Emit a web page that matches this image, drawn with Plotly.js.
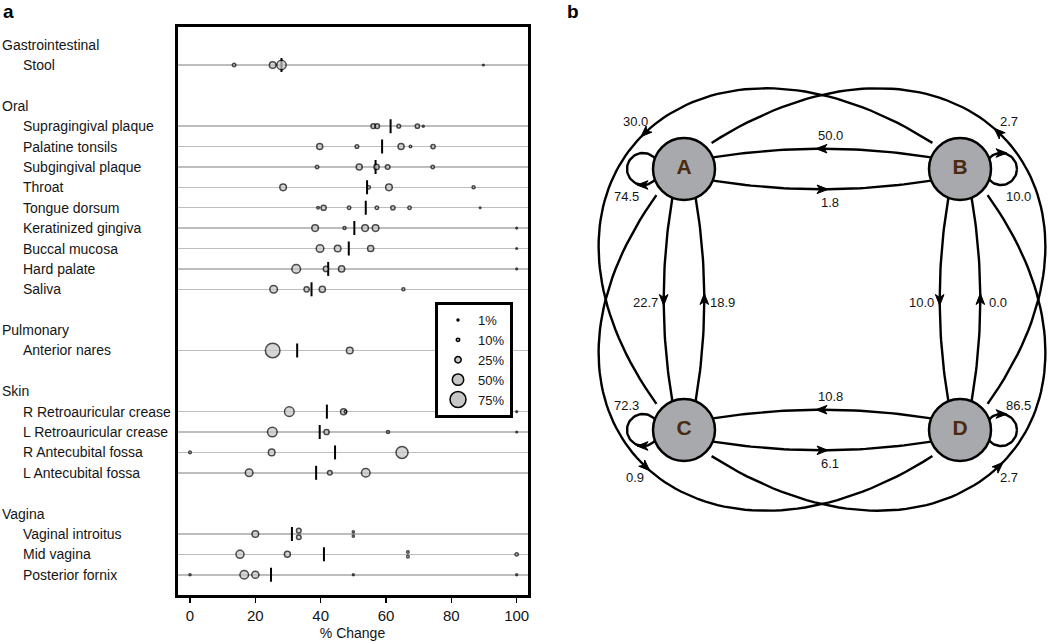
<!DOCTYPE html>
<html><head><meta charset="utf-8">
<script src="https://cdn.plot.ly/plotly-3.0.1.min.js"></script>
<style>html,body{margin:0;padding:0;background:#fff}#chart{width:1050px;height:643px}</style>
</head><body><div id="chart"></div>
<script>
// ---------------- DATA: panel a ----------------
const groupNames = ['Gastrointestinal', 'Oral', 'Pulmonary', 'Skin', 'Vagina'];
const siteNames = ['Stool',
  'Supragingival plaque', 'Palatine tonsils', 'Subgingival plaque', 'Throat', 'Tongue dorsum',
  'Keratinized gingiva', 'Buccal mucosa', 'Hard palate', 'Saliva',
  'Anterior nares',
  'R Retroauricular crease', 'L Retroauricular crease', 'R Antecubital fossa', 'L Antecubital fossa',
  'Vaginal introitus', 'Mid vagina', 'Posterior fornix'];
const siteGroup = [0, 1, 1, 1, 1, 1, 1, 1, 1, 1, 2, 3, 3, 3, 3, 4, 4, 4];
const siteMedian = [28.0, 61.4, 58.8, 56.8, 54.2, 53.8, 50.3, 48.6, 42.3, 37.2, 32.8, 41.9, 39.7, 44.4, 38.6, 31.2, 41.0, 24.8];
const pointChange = [
  [13.5, 25.3, 28.0, 89.8],
  [56.1, 57.3, 63.9, 69.6, 71.4],
  [39.7, 51.1, 64.6, 67.5, 74.4],
  [38.9, 51.8, 57.1, 60.5, 74.3],
  [28.5, 54.7, 60.9, 86.8],
  [39.2, 40.9, 48.7, 57.2, 62.1, 67.2, 88.8],
  [38.3, 47.3, 53.6, 56.8, 100],
  [39.8, 45.2, 55.3, 100],
  [32.5, 41.6, 46.4, 100],
  [25.6, 35.7, 40.5, 65.3],
  [25.3, 48.9],
  [30.4, 47.0, 47.6, 100],
  [25.2, 41.8, 60.6, 100],
  [0, 25.0, 64.9],
  [18.1, 42.8, 53.8],
  [20.0, 33.3, 33.3, 50, 50],
  [15.3, 29.8, 66.7, 66.7, 100],
  [0, 16.6, 20.0, 50, 100]];
const pointPercent = [
  [10, 26, 40, 1],
  [16, 16, 11, 14, 3],
  [23, 11, 23, 6, 14],
  [10, 23, 19, 16, 10],
  [26, 10, 26, 8],
  [6, 19, 10, 10, 14, 10, 1],
  [26, 8, 26, 26, 1],
  [31, 26, 24, 1],
  [36, 19, 24, 1],
  [31, 19, 24, 8],
  [66, 26],
  [41, 23, 6, 1],
  [41, 19, 8, 1],
  [6, 26, 53],
  [31, 16, 36],
  [26, 16, 16, 4, 4],
  [33, 23, 6, 6, 10],
  [3, 36, 29, 2, 2]];
// tied points drawn stacked (-1 above, +1 below)
const pointStack = [
  [0,0,0,0],[0,0,0,0,0],[0,0,0,0,0],[0,0,0,0,0],[0,0,0,0],[0,0,0,0,0,0,0],[0,0,0,0,0],
  [0,0,0,0],[0,0,0,0],[0,0,0,0],[0,0],[0,0,0,0],[0,0,0,0],[0,0,0],[0,0,0],
  [0,-1,1,-1,1],[0,0,-1,1,0],[0,0,0,0,0]];
const legendPercent = [1, 10, 25, 50, 75];
const xTicks = [0, 20, 40, 60, 80, 100];

// ---------------- DATA: panel b ----------------
const nodeNames = ['A', 'B', 'C', 'D'];
const nodeCol = [0, 1, 0, 1];
const nodeRow = [0, 0, 1, 1];
// transition percentages, from row node to column node
const transitions = [
  [74.5, 1.8, 22.7, 0.9],
  [50.0, 10.0, 30.0, 10.0],
  [18.9, 2.7, 72.3, 6.1],
  [2.7, 0.0, 10.8, 86.5]];

// ---------------- STYLE / GEOMETRY ----------------
const W = 1050, H = 643;
const FONT = '"Liberation Sans", Arial, Helvetica, sans-serif';
const TXT = '#151515';
const FILL = '#c6c6c6';
const ROW0 = 44.61, ROWSTEP = 20.39;        // px of slot 0, px per slot
const PA = {l: 177.5, r: 527.5, t: 26.5, b: 594.5};
const X0PX = 190, PXU = 3.267;              // px of x=0, px per unit
const diam = p => 1.4 + 0.2 * p;
const STROKE = 1.5;

// slots: header, sites, blank per group
const siteSlot = [], headerSlot = [];
let s = 0;
groupNames.forEach((g, gi) => {
  headerSlot.push(s); s++;
  siteGroup.forEach((sg, si) => { if (sg === gi) { siteSlot[si] = s; s++; } });
  s++;
});

const traces = [];
traces.push({
  type: 'scatter', mode: 'markers', xaxis: 'x', yaxis: 'y', showlegend: false, hoverinfo: 'skip',
  x: siteMedian, y: siteSlot,
  marker: {symbol: 'line-ns-open', size: 10, color: '#000', line: {width: 2, color: '#000'}}
});
const px = [], py = [], ps = [];
siteNames.forEach((n, i) => {
  pointChange[i].forEach((x, k) => {
    const d = diam(pointPercent[i][k]);
    const st = pointStack[i][k] || 0;
    px.push(x);
    py.push(siteSlot[i] + st * (d / 2 + 1.0) / ROWSTEP);
    ps.push(d);
  });
});
traces.push({
  type: 'scatter', mode: 'markers', xaxis: 'x', yaxis: 'y', showlegend: false, hoverinfo: 'skip',
  x: px, y: py,
  marker: {size: ps, sizemode: 'diameter', color: FILL, line: {width: STROKE, color: '#000'}}
});
legendPercent.forEach(p => traces.push({
  type: 'scatter', mode: 'markers', xaxis: 'x', yaxis: 'y', hoverinfo: 'skip',
  x: [null], y: [null], name: p + '%', showlegend: true,
  marker: {size: diam(p), color: FILL, line: {width: STROKE, color: '#000'}}
}));

const annotations = [];
groupNames.forEach((g, gi) => annotations.push({
  xref: 'paper', yref: 'y', x: 0, y: headerSlot[gi], xanchor: 'left', yanchor: 'middle',
  text: g, showarrow: false, font: {size: 14, family: FONT, color: TXT}
}));
siteNames.forEach((n, i) => annotations.push({
  xref: 'paper', yref: 'y', x: 21 / W, y: siteSlot[i], xanchor: 'left', yanchor: 'middle',
  text: n, showarrow: false, font: {size: 14, family: FONT, color: TXT}
}));
annotations.push({xref: 'paper', yref: 'paper', x: 2 / W, y: 1, xanchor: 'left', yanchor: 'top', borderpad: 0,
  text: '<b>a</b>', showarrow: false, font: {size: 19, family: FONT, color: '#000'}});
annotations.push({xref: 'paper', yref: 'paper', x: 566 / W, y: 1, xanchor: 'left', yanchor: 'top', borderpad: 0,
  text: '<b>b</b>', showarrow: false, font: {size: 19, family: FONT, color: '#000'}});

// ---------------- panel b network ----------------
const NCX = 822, NCY = 299.5, NHX = 138, NHY = 130.5, NR = 31;
const nodePos = i => [NCX + (2 * nodeCol[i] - 1) * NHX, NCY + (2 * nodeRow[i] - 1) * NHY];
const eX = [], eY = [], aX = [], aY = [];
function addArrow(p, t) {
  const n = [-t[1], t[0]];
  const tip = [p[0] + t[0] * 6, p[1] + t[1] * 6];
  const back = [p[0] - t[0] * 5, p[1] - t[1] * 5];
  const notch = [p[0] - t[0] * 2, p[1] - t[1] * 2];
  const L = [back[0] + n[0] * 4.3, back[1] + n[1] * 4.3];
  const Rr = [back[0] - n[0] * 4.3, back[1] - n[1] * 4.3];
  [tip, L, notch, Rr, tip].forEach(q => { aX.push(q[0]); aY.push(q[1]); });
  aX.push(null); aY.push(null);
}
function addLabel(x, y, v) {
  annotations.push({xref: 'x2', yref: 'y2', x: x, y: y, xanchor: 'center', yanchor: 'middle',
    text: v.toFixed(1), showarrow: false, font: {size: 13, family: FONT, color: TXT}});
}
const unit = v => { const l = Math.hypot(v[0], v[1]); return [v[0] / l, v[1] / l]; };
// template of a diagonal edge from (1,-1) to (-1,1), normalized grid units
const DIAG = [[0.80, -1.20], [-0.92, -2.36], [-2.36, -0.92], [-1.20, 0.80]];

nodeNames.forEach((fn, i) => nodeNames.forEach((tn, j) => {
  const v = transitions[i][j];
  const P = nodePos(i), Q = nodePos(j);
  if (i === j) {
    const sx = 2 * nodeCol[i] - 1;
    const c = [P[0] + sx * 41, P[1]], r = 16;
    for (let k = 0; k <= 72; k++) { const a = k / 72 * 2 * Math.PI; eX.push(c[0] + r * Math.cos(a)); eY.push(c[1] + r * Math.sin(a)); }
    eX.push(null); eY.push(null);
    const th = sx > 0 ? -Math.PI / 2 : Math.PI / 2;
    addArrow([c[0] + r * Math.cos(th), c[1] + r * Math.sin(th)], [-Math.sin(th), Math.cos(th)]);
    addLabel(P[0] + sx * 58, P[1] + (nodeRow[i] === 0 ? 27 : -25), v);
  } else if (nodeCol[i] === nodeCol[j] || nodeRow[i] === nodeRow[j]) {
    const u = unit([Q[0] - P[0], Q[1] - P[1]]), n = [-u[1], u[0]];
    const phi = 22 * Math.PI / 180, h = 29;
    const st = [P[0] + NR * (Math.cos(phi) * u[0] + Math.sin(phi) * n[0]), P[1] + NR * (Math.cos(phi) * u[1] + Math.sin(phi) * n[1])];
    const en = [Q[0] + NR * (-Math.cos(phi) * u[0] + Math.sin(phi) * n[0]), Q[1] + NR * (-Math.cos(phi) * u[1] + Math.sin(phi) * n[1])];
    const ct = [(P[0] + Q[0]) / 2 + n[0] * h, (P[1] + Q[1]) / 2 + n[1] * h];
    for (let k = 0; k <= 40; k++) {
      const t = k / 40;
      eX.push((1 - t) * (1 - t) * st[0] + 2 * (1 - t) * t * ct[0] + t * t * en[0]);
      eY.push((1 - t) * (1 - t) * st[1] + 2 * (1 - t) * t * ct[1] + t * t * en[1]);
    }
    eX.push(null); eY.push(null);
    const m = [0.25 * st[0] + 0.5 * ct[0] + 0.25 * en[0], 0.25 * st[1] + 0.5 * ct[1] + 0.25 * en[1]];
    addArrow(m, u);
    const horiz = nodeRow[i] === nodeRow[j];
    const off = horiz ? 13 : 18;
    addLabel(m[0] + n[0] * off + (horiz ? 8 : 0), m[1] + n[1] * off + (horiz ? 0 : 3), v);
  } else {
    const p = [2 * nodeCol[i] - 1, 2 * nodeRow[i] - 1], q = [2 * nodeCol[j] - 1, 2 * nodeRow[j] - 1];
    const K = [-(q[1] - p[1]) / 2, (q[0] - p[0]) / 2];
    const c1 = [(p[0] - K[0]) / 2, (p[1] - K[1]) / 2], c2 = [-(p[0] + K[0]) / 2, -(p[1] + K[1]) / 2];
    const pts = DIAG.map(d => [NCX + NHX * (c1[0] * d[0] + c2[0] * d[1]), NCY + NHY * (c1[1] * d[0] + c2[1] * d[1])]);
    const bz = t => {
      const a = (1 - t) ** 3, b = 3 * (1 - t) ** 2 * t, c = 3 * (1 - t) * t * t, d = t ** 3;
      return [a * pts[0][0] + b * pts[1][0] + c * pts[2][0] + d * pts[3][0], a * pts[0][1] + b * pts[1][1] + c * pts[2][1] + d * pts[3][1]];
    };
    for (let k = 0; k <= 80; k++) { const b = bz(k / 80); eX.push(b[0]); eY.push(b[1]); }
    eX.push(null); eY.push(null);
    const m = bz(0.5);
    const tg = unit([pts[3][0] + pts[2][0] - pts[1][0] - pts[0][0], pts[3][1] + pts[2][1] - pts[1][1] - pts[0][1]]);
    addArrow(m, tg);
    addLabel(m[0] - tg[1] * 15, m[1] + tg[0] * 15, v);
  }
}));

traces.push({type: 'scatter', mode: 'lines', xaxis: 'x2', yaxis: 'y2', showlegend: false, hoverinfo: 'skip',
  x: eX, y: eY, line: {color: '#000', width: 2.4}, connectgaps: false});
traces.push({type: 'scatter', mode: 'lines', xaxis: 'x2', yaxis: 'y2', showlegend: false, hoverinfo: 'skip',
  x: aX, y: aY, fill: 'toself', fillcolor: '#000', line: {color: '#000', width: 1}});
traces.push({type: 'scatter', mode: 'markers+text', xaxis: 'x2', yaxis: 'y2', showlegend: false, hoverinfo: 'skip',
  x: nodeNames.map((n, i) => nodePos(i)[0]), y: nodeNames.map((n, i) => nodePos(i)[1]),
  text: nodeNames.map(n => '<b>' + n + '</b>'), textposition: 'middle center',
  textfont: {size: 21, family: FONT, color: '#4a2a10'},
  marker: {size: 62, color: '#a8a9ac', line: {width: 2.5, color: '#000'}}});

const layout = {
  width: W, height: H, margin: {l: 0, r: 0, t: 0, b: 0, pad: 0},
  paper_bgcolor: '#fff', plot_bgcolor: '#fff',
  font: {family: FONT, color: TXT},
  showlegend: true,
  legend: {x: 435 / W, y: 1 - 302 / H, xanchor: 'left', yanchor: 'top', bgcolor: '#fff',
    bordercolor: '#000', borderwidth: 3, font: {size: 13, family: FONT, color: TXT}, itemsizing: 'trace'},
  xaxis: {domain: [PA.l / W, PA.r / W], anchor: 'y', range: [(PA.l - X0PX) / PXU, (PA.r - X0PX) / PXU],
    tickvals: xTicks, ticks: 'outside', ticklen: 5, tickwidth: 1.5, tickcolor: '#000',
    showline: true, mirror: true, linewidth: 3, linecolor: '#000', showgrid: false, zeroline: false,
    tickfont: {size: 15, family: FONT, color: TXT},
    title: {text: '% Change', font: {size: 14, family: FONT, color: TXT}, standoff: 6}, fixedrange: true},
  yaxis: {domain: [1 - PA.b / H, 1 - PA.t / H], anchor: 'x',
    range: [(PA.b - ROW0) / ROWSTEP, (PA.t - ROW0) / ROWSTEP],
    tickvals: siteSlot, showticklabels: false, ticks: '', showgrid: true, gridcolor: '#bdbdbd', gridwidth: 1.5,
    showline: true, mirror: true, linewidth: 3, linecolor: '#000', zeroline: false, fixedrange: true},
  xaxis2: {domain: [560 / W, 1], anchor: 'y2', range: [560, 1050], visible: false, fixedrange: true},
  yaxis2: {domain: [0, 1], anchor: 'x2', range: [643, 0], visible: false, fixedrange: true},
  annotations: annotations
};
Plotly.newPlot('chart', traces, layout, {staticPlot: true, displayModeBar: false});
</script></body></html>
